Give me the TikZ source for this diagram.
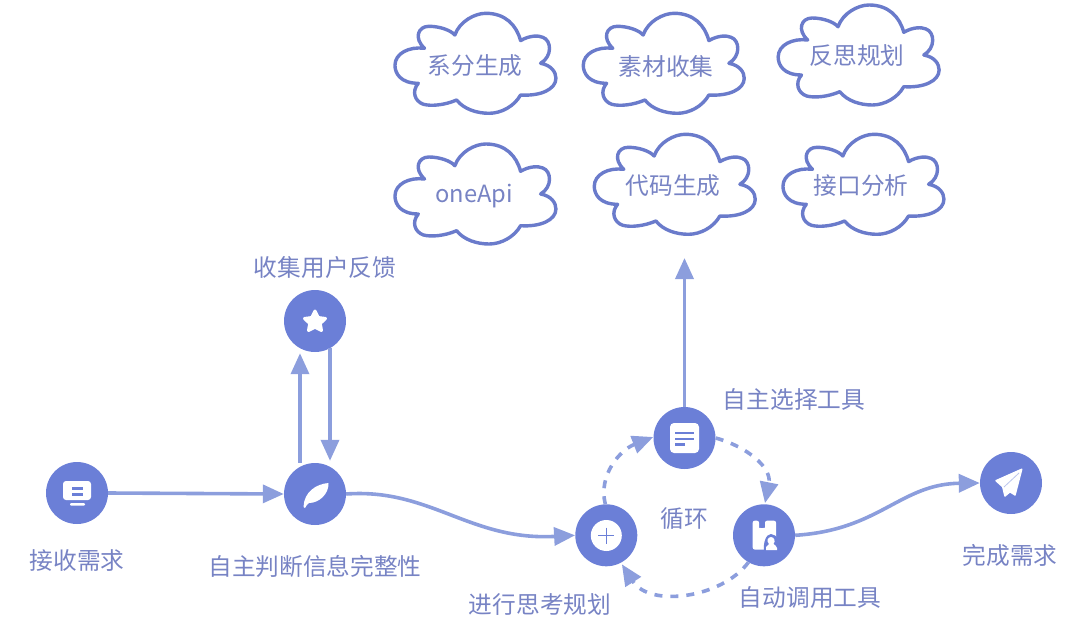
\documentclass[tikz,border=0pt]{standalone}
\usepackage{fontspec}
\setmainfont{Noto Sans CJK SC}
\usetikzlibrary{arrows.meta}
\definecolor{discblue}{HTML}{6B7FD7}
\definecolor{flow}{HTML}{8C9EDD}
\definecolor{labelblue}{HTML}{7783C4}
\definecolor{cloudedge}{HTML}{6A7BCB}
\tikzset{
  discnode/.style={circle,fill=discblue,draw=none,minimum size=62pt,inner sep=0pt},
  lab/.style={text=labelblue,font=\fontsize{23.7}{27}\selectfont,inner sep=0pt},
  flowline/.style={draw=flow,line width=3.6pt,-{Triangle[length=21pt,width=18pt,fill=flow]}},
  flowdash/.style={flowline,dash pattern=on 8pt off 8pt},
  cloudshape/.pic={
    \draw[cloudedge,line width=3.4pt,line join=round,fill=white,xscale=1.095]
      (-51.7,20) .. controls (-68,20) and (-73,10) .. (-73,2)
      .. controls (-73,-10) and (-60,-17) .. (-46,-15)
      .. controls (-56,-25) and (-52,-37) .. (-42,-37)
      .. controls (-32,-37) and (-22,-33) .. (-18.3,-28.3)
      .. controls (-14,-42) and (0,-50) .. (10,-50)
      .. controls (28,-50) and (38,-38) .. (41.7,-22.7)
      .. controls (50,-28) and (58,-28) .. (62,-26)
      .. controls (70,-23) and (71,-7) .. (60,0)
      .. controls (70,2) and (74,9) .. (74,15)
      .. controls (74,26) and (60,33) .. (41.7,31.7)
      .. controls (36,43) and (24,50) .. (13,50)
      .. controls (2,50) and (-10,46) .. (-16.7,36.7)
      .. controls (-28,42) and (-40,43) .. (-47,41)
      .. controls (-55,38) and (-58,28) .. (-51.7,20) -- cycle;
  }
}
\begin{document}
\begin{tikzpicture}[x=1pt,y=-1pt]
\useasboundingbox (0,0) rectangle (1080,632);
% clouds
\pic at (474.9,63.3) {cloudshape};
\pic at (663.2,63.3) {cloudshape};
\pic at (858.1,55) {cloudshape};
\pic at (474.9,194) {cloudshape};
\pic at (674.2,184.3) {cloudshape};
\pic at (862.9,184.3) {cloudshape};
\node[lab] (c1) at (475,66) {系分生成};
\node[lab] (c2) at (666,66) {素材收集};
\node[lab] (c3) at (857,56) {反思规划};
\node[lab] (c4) at (474,196) {oneApi};
\node[lab] (c5) at (673,186) {代码生成};
\node[lab] (c6) at (861,186) {接口分析};
% discs
\node[discnode] (recv) at (77,493) {};
\node[discnode] (star) at (315,321) {};
\node[discnode] (judge) at (315,494) {};
\node[discnode] (plan) at (606.3,535.3) {};
\node[discnode] (pick) at (684.5,438) {};
\node[discnode] (call) at (764,535.3) {};
\node[discnode] (done) at (1011,483) {};
% labels
\node[lab] (l1) at (77,561) {接收需求};
\node[lab] (l2) at (325,268) {收集用户反馈};
\node[lab] (l3) at (315,566) {自主判断信息完整性};
\node[lab] (l4) at (540,605) {进行思考规划};
\node[lab] (l5) at (684,519) {循环};
\node[lab] (l6) at (794,399) {自主选择工具};
\node[lab] (l7) at (810,598) {自动调用工具};
\node[lab] (l8) at (1010,555) {完成需求};
% connectors
\coordinate (toolsTip) at (684.5,258);
\draw[flowline] (recv.east) -- (judge.west);
\draw[flowline] ([xshift=-15pt]judge.north) -- ([xshift=-15pt,yshift=-1pt]star.south);
\draw[flowline] ([xshift=15pt,yshift=4pt]star.south) -- ([xshift=15pt,yshift=2pt]judge.north);
\draw[flowline] (judge.east) .. controls (430,488) and (470,541) .. (plan.west);
\draw[flowline] (pick.north) -- (toolsTip);
\draw[flowline] (call.east) .. controls (880,530) and (900,484) .. (done.west);
\draw[flowdash] ([xshift=-1pt]plan.north) .. controls (598,475) and (620,450) .. ([yshift=1pt]pick.west);
\draw[flowdash] (pick.east) .. controls (748,447) and (772,468) .. ([xshift=1pt,yshift=1pt]call.north);
\draw[flowdash] (call.-120) .. controls (722,598) and (650,608) .. ([yshift=-2pt]plan.-60);
% icon: monitor
\fill[white,rounded corners=3pt] (63,481) rectangle (91,500);
\fill[white,rounded corners=1pt] (70,503) rectangle (85,505.5);
\fill[discblue] (72,487) rectangle (83,489.5);
\fill[discblue] (72,493) rectangle (83,495.5);
% icon: star
\fill[white,line join=round,draw=white,line width=3pt]
  (315,311) -- (318.3,317.5) -- (325.5,318.5) -- (320.3,323.5) -- (321.5,330.5)
  -- (315,327.2) -- (308.5,330.5) -- (309.7,323.5) -- (304.5,318.5) -- (311.7,317.5) -- cycle;
% icon: feather
\fill[white] (303.5,507) .. controls (304,492) and (316,484) .. (328.5,483)
  .. controls (329,494) and (319,503) .. (309,503) .. controls (307,504.5) and (306,506) .. (305,508) -- cycle;
% icon: plus
\fill[white] (606.3,535.5) circle (15.5pt);
\draw[draw=discblue,line width=1.5pt] (598.3,535.5) -- (614.3,535.5) (606.3,527.5) -- (606.3,543.5);
% icon: document
\fill[white,rounded corners=4pt] (670,423) rectangle (699,453);
\fill[discblue] (675,431.5) rectangle (694,434);
\fill[discblue] (675,437.5) rectangle (694,440);
\fill[discblue] (675,443) rectangle (685,445.5);
% icon: tool box
\fill[white,rounded corners=2pt] (752.7,520.7) -- (759,520.7) -- (759,529) -- (762,527) -- (765,529) -- (765,520.7) -- (776,520.7) -- (776,549.5) -- (752.7,549.5) -- cycle;
\fill[discblue] (764,551) .. controls (763,543) and (766,534) .. (771,534) .. controls (777,534) and (781,543) .. (780,551) -- cycle;
\fill[white] (766,550) -- (766,547) .. controls (767,545) and (768,545) .. (769,544)
  .. controls (766,541) and (768,537) .. (771,537) .. controls (774,537) and (776,541) .. (773.5,544)
  .. controls (775,545) and (776.5,546) .. (777,548) -- (777,550) -- cycle;
% icon: paper plane
\fill[white,line join=round,draw=white,line width=1.5pt]
  (1021.7,469.3) -- (996,480.7) -- (1002.7,486.7) -- (1005,496) -- (1010,491.7) -- (1015,495) -- cycle;
\draw[draw=discblue!45!white,line width=.8pt] (1019,473) -- (1004,487);
\end{tikzpicture}
\end{document}
